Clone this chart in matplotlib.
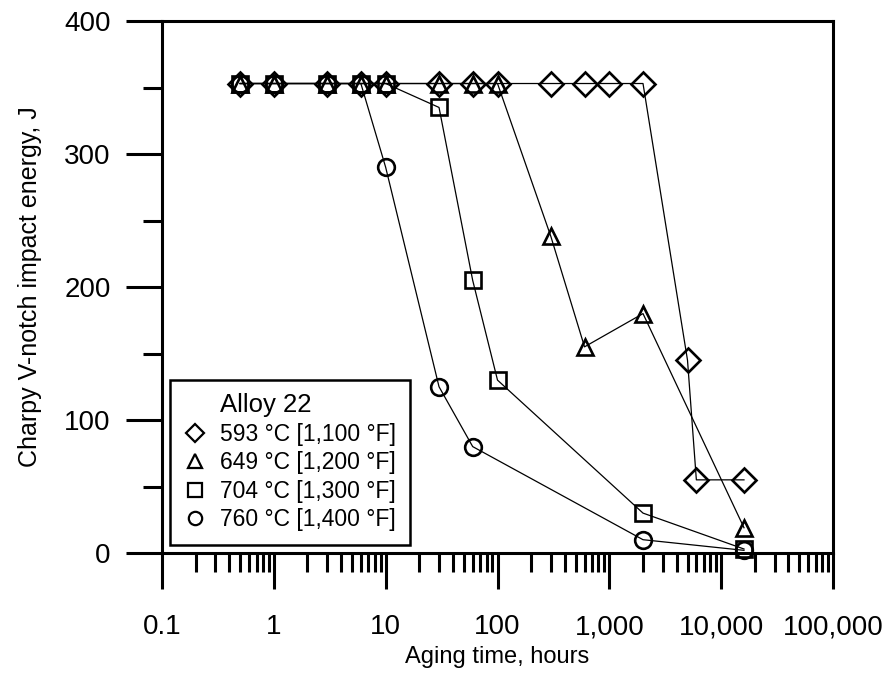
import matplotlib.pyplot as plt
from matplotlib.lines import Line2D
from matplotlib.ticker import FixedLocator, FixedFormatter, NullFormatter

plt.rcParams['font.family'] = ['Liberation Sans', 'DejaVu Sans']

# data (aging time in hours, Charpy energy in J)
t_593 = [0.5, 1, 3, 6, 10, 30, 60, 100, 300, 600, 1000, 2000, 5000, 6000, 16000]
e_593 = [353, 353, 353, 353, 353, 353, 353, 353, 353, 353, 353, 353, 145, 55, 55]

t_649 = [0.5, 1, 3, 6, 10, 30, 60, 100, 300, 600, 2000, 16000]
e_649 = [353, 353, 353, 353, 353, 353, 353, 353, 238, 155, 180, 19]

t_704 = [0.5, 1, 3, 6, 10, 30, 60, 100, 2000, 16000]
e_704 = [353, 353, 353, 353, 353, 335, 205, 130, 30, 3]

t_760 = [0.5, 1, 3, 6, 10, 30, 60, 2000, 16000]
e_760 = [353, 353, 353, 353, 290, 125, 80, 10, 2]

labels = ['593 °C [1,100 °F]', '649 °C [1,200 °F]',
          '704 °C [1,300 °F]', '760 °C [1,400 °F]']
markers = ['D', '^', 's', 'o']
sizes = [12, 12, 12, 12]

xticks = [0.1, 1, 10, 100, 1000, 10000, 100000]
xticklabels = ['0.1', '1', '10', '100', '1,000', '10,000', '100,000']
yticks = [0, 100, 200, 300, 400]

fig = plt.figure(figsize=(8.9, 6.77), dpi=100)
ax = fig.add_axes([162/890, 1 - 553/677, (833 - 162)/890, (553 - 21)/677])

series = [(t_593, e_593), (t_649, e_649), (t_704, e_704), (t_760, e_760)]
handles = []
for (t, e), lab, m, ms in zip(series, labels, markers, sizes):
    ax.plot(t, e, color='black', lw=0.9, marker=m, ms=ms, mfc='none',
            mec='black', mew=1.9, clip_on=False)
    handles.append(Line2D([], [], ls='none', marker=m, ms=ms * 0.8, mfc='none',
                          mec='black', mew=1.6, label=lab))

ax.set_xscale('log')
ax.set_xlim(0.1, 100000)
ax.set_ylim(0, 400)

minors = [k * 10.0**d for d in range(-1, 5) for k in range(2, 10)]
ax.xaxis.set_major_locator(FixedLocator(xticks))
ax.xaxis.set_major_formatter(FixedFormatter(xticklabels))
ax.xaxis.set_minor_locator(FixedLocator(minors))
ax.xaxis.set_minor_formatter(NullFormatter())
ax.yaxis.set_major_locator(FixedLocator(yticks))
ax.yaxis.set_minor_locator(FixedLocator([50, 150, 250, 350]))

for s in ax.spines.values():
    s.set_linewidth(2.2)
ax.tick_params(which='major', direction='out', length=26, width=2.2, labelsize=20)
ax.tick_params(which='minor', direction='out', length=14, width=2.2)
ax.tick_params(axis='x', which='major', pad=18)
ax.tick_params(axis='y', which='major', pad=11)

ax.set_xlabel('Aging time, hours', fontsize=17, labelpad=4)
ax.set_ylabel('Charpy V-notch impact energy, J', fontsize=18, labelpad=16)

title_handle = Line2D([], [], ls='none', label='Alloy 22')
leg = ax.legend(handles=[title_handle] + handles, loc='lower left',
                bbox_to_anchor=(170/890, 1 - 545/677), bbox_transform=fig.transFigure,
                fontsize=16.5, frameon=True, fancybox=False, framealpha=1,
                edgecolor='black', handlelength=1.0, handletextpad=0.6,
                borderpad=0.6, labelspacing=0.24, borderaxespad=0)
leg.get_frame().set_linewidth(1.8)
leg.get_texts()[0].set_fontsize(18.5)

plt.savefig('out.png', dpi=100)
